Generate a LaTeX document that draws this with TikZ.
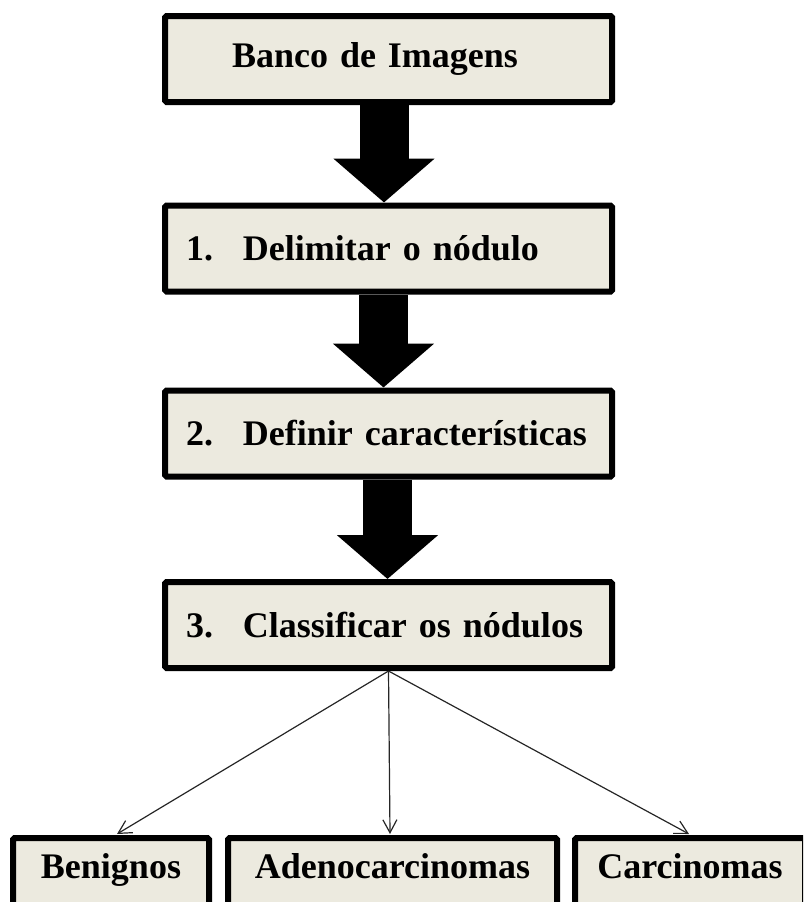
\documentclass[tikz,border=0pt]{standalone}
\usepackage{fontspec}
\setmainfont{Liberation Serif}
\usetikzlibrary{arrows.meta,calc}
\definecolor{boxfill}{RGB}{236,234,223}
\begin{document}
\begin{tikzpicture}[x=1pt,y=-1pt,
  boxtext/.style={font=\fontsize{36}{40}\selectfont\bfseries},
  stepbox/.style={boxtext, draw=black, line width=6pt, fill=boxfill,
    rounded corners=1.5pt, text width=405pt, inner xsep=21pt,
    minimum height=86pt, align=left},
  classbox/.style={boxtext, draw=black, line width=6pt, fill=boxfill,
    rounded corners=1.5pt, anchor=north, minimum height=69pt,
    inner sep=0pt, text height=26pt, text depth=15pt},
  bigarrow/.style={line width=49pt, -{Triangle[width=99pt,length=44pt]}},
  thinarrow/.style={line width=1.2pt, draw=black!85,
    -{Straight Barb[length=13pt,width=14pt,line width=1.2pt]}},
  num/.style={}]
\path[use as bounding box] (0,0) rectangle (803,902);
\clip (0,0) rectangle (803,902);

% main pipeline
\node[stepbox] (bank) at (388.5,59) {\hspace*{46pt}Banco de Imagens};
\node[stepbox] (s1) at (388.5,248.5) {\makebox[57pt][l]{1.}Delimitar o nódulo};
\node[stepbox] (s2) at (388.5,433.5) {\makebox[57pt][l]{2.}Definir características};
\node[stepbox] (s3) at (388.5,625) {\makebox[57pt][l]{3.}Classificar os nódulos};

% classes
\node[classbox, minimum width=196pt] (ben) at (111,835) {Benignos};
\node[classbox, minimum width=329pt] (ade) at (392.5,835) {Adenocarcinomas};
\node[classbox, minimum width=230pt] (car) at (690,835) {Carcinomas};

% block arrows between steps
\draw[bigarrow] ($(bank.south)+(-4.5,0)$) -- ($(s1.north)+(-4.5,0)$);
\draw[bigarrow] ($(s1.south)+(-5,0)$) -- ($(s2.north)+(-5,0)$);
\draw[bigarrow] ($(s2.south)+(-1,0)$) -- ($(s3.north)+(-1,0)$);

% thin arrows to the classes
\draw[thinarrow] (s3.south) -- ($(ben.north)+(6,-1)$);
\draw[thinarrow] (s3.south) -- ($(ade.north)+(-2.5,-1)$);
\draw[thinarrow] (s3.south) -- ($(car.north)+(-1,-1)$);
\end{tikzpicture}
\end{document}
